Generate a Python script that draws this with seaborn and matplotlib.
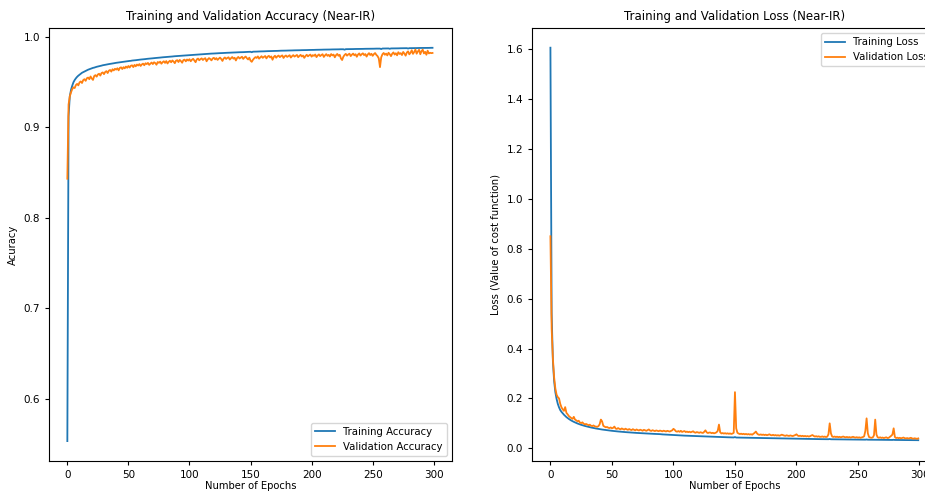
import numpy as np
import pandas as pd
import matplotlib
matplotlib.use("Agg")
import matplotlib.pyplot as plt
import seaborn as sns

# ---- training history (Near-IR model), one value per epoch ----
train_acc = [
    0.5530, 0.9120, 0.9340, 0.9412, 0.9458, 0.9496, 0.9521, 0.9540, 0.9556, 0.9569,
    0.9580, 0.9591, 0.9601, 0.9608, 0.9616, 0.9622, 0.9629, 0.9635, 0.9640, 0.9645,
    0.9650, 0.9655, 0.9658, 0.9663, 0.9667, 0.9670, 0.9674, 0.9677, 0.9680, 0.9684,
    0.9686, 0.9689, 0.9692, 0.9694, 0.9697, 0.9699, 0.9702, 0.9704, 0.9706, 0.9709,
    0.9711, 0.9713, 0.9715, 0.9717, 0.9719, 0.9721, 0.9722, 0.9725, 0.9726, 0.9728,
    0.9730, 0.9732, 0.9733, 0.9736, 0.9737, 0.9739, 0.9740, 0.9742, 0.9743, 0.9745,
    0.9747, 0.9748, 0.9750, 0.9751, 0.9753, 0.9754, 0.9756, 0.9757, 0.9758, 0.9760,
    0.9761, 0.9763, 0.9764, 0.9765, 0.9767, 0.9768, 0.9769, 0.9771, 0.9772, 0.9773,
    0.9774, 0.9776, 0.9777, 0.9778, 0.9779, 0.9780, 0.9781, 0.9783, 0.9784, 0.9785,
    0.9786, 0.9787, 0.9788, 0.9790, 0.9791, 0.9792, 0.9793, 0.9794, 0.9795, 0.9796,
    0.9797, 0.9798, 0.9799, 0.9800, 0.9801, 0.9802, 0.9803, 0.9803, 0.9804, 0.9805,
    0.9806, 0.9807, 0.9808, 0.9809, 0.9809, 0.9810, 0.9811, 0.9812, 0.9813, 0.9813,
    0.9814, 0.9815, 0.9816, 0.9816, 0.9817, 0.9818, 0.9818, 0.9819, 0.9820, 0.9820,
    0.9821, 0.9822, 0.9822, 0.9823, 0.9824, 0.9824, 0.9825, 0.9825, 0.9826, 0.9827,
    0.9827, 0.9828, 0.9828, 0.9829, 0.9829, 0.9830, 0.9831, 0.9831, 0.9832, 0.9832,
    0.9833, 0.9828, 0.9834, 0.9834, 0.9835, 0.9835, 0.9836, 0.9836, 0.9837, 0.9837,
    0.9838, 0.9838, 0.9839, 0.9839, 0.9840, 0.9840, 0.9841, 0.9841, 0.9842, 0.9842,
    0.9842, 0.9843, 0.9843, 0.9844, 0.9844, 0.9845, 0.9845, 0.9845, 0.9846, 0.9846,
    0.9847, 0.9847, 0.9847, 0.9848, 0.9848, 0.9849, 0.9849, 0.9849, 0.9850, 0.9850,
    0.9850, 0.9851, 0.9851, 0.9851, 0.9852, 0.9852, 0.9852, 0.9853, 0.9853, 0.9853,
    0.9854, 0.9854, 0.9854, 0.9855, 0.9855, 0.9855, 0.9856, 0.9856, 0.9856, 0.9857,
    0.9857, 0.9857, 0.9857, 0.9858, 0.9858, 0.9858, 0.9859, 0.9859, 0.9859, 0.9859,
    0.9860, 0.9860, 0.9860, 0.9861, 0.9861, 0.9861, 0.9861, 0.9856, 0.9862, 0.9862,
    0.9862, 0.9863, 0.9863, 0.9863, 0.9863, 0.9864, 0.9864, 0.9864, 0.9864, 0.9865,
    0.9865, 0.9865, 0.9865, 0.9866, 0.9866, 0.9866, 0.9866, 0.9866, 0.9867, 0.9867,
    0.9867, 0.9867, 0.9868, 0.9868, 0.9868, 0.9868, 0.9868, 0.9863, 0.9869, 0.9869,
    0.9869, 0.9869, 0.9870, 0.9870, 0.9866, 0.9870, 0.9870, 0.9871, 0.9871, 0.9871,
    0.9871, 0.9871, 0.9872, 0.9872, 0.9872, 0.9872, 0.9872, 0.9873, 0.9873, 0.9869,
    0.9873, 0.9873, 0.9874, 0.9874, 0.9874, 0.9874, 0.9874, 0.9875, 0.9875, 0.9875,
    0.9875, 0.9875, 0.9876, 0.9876, 0.9876, 0.9876, 0.9876, 0.9877, 0.9877, 0.9877,
]

val_acc = [
    0.8430, 0.9250, 0.9340, 0.9385, 0.9420, 0.9440, 0.9432, 0.9465, 0.9478, 0.9462,
    0.9495, 0.9505, 0.9488, 0.9520, 0.9530, 0.9512, 0.9541, 0.9548, 0.9530, 0.9560,
    0.9538, 0.9522, 0.9565, 0.9575, 0.9558, 0.9582, 0.9590, 0.9570, 0.9598, 0.9605,
    0.9586, 0.9610, 0.9619, 0.9598, 0.9624, 0.9632, 0.9614, 0.9640, 0.9627, 0.9645,
    0.9636, 0.9651, 0.9628, 0.9655, 0.9661, 0.9642, 0.9663, 0.9650, 0.9670, 0.9656,
    0.9676, 0.9659, 0.9679, 0.9683, 0.9664, 0.9688, 0.9672, 0.9692, 0.9681, 0.9697,
    0.9676, 0.9693, 0.9702, 0.9684, 0.9706, 0.9697, 0.9710, 0.9688, 0.9702, 0.9714,
    0.9697, 0.9717, 0.9708, 0.9690, 0.9720, 0.9711, 0.9724, 0.9701, 0.9718, 0.9728,
    0.9710, 0.9730, 0.9704, 0.9722, 0.9734, 0.9717, 0.9737, 0.9725, 0.9707, 0.9735,
    0.9740, 0.9720, 0.9743, 0.9730, 0.9712, 0.9741, 0.9746, 0.9727, 0.9748, 0.9736,
    0.9751, 0.9728, 0.9745, 0.9755, 0.9737, 0.9718, 0.9749, 0.9758, 0.9739, 0.9752,
    0.9760, 0.9742, 0.9755, 0.9762, 0.9728, 0.9749, 0.9763, 0.9753, 0.9738, 0.9759,
    0.9766, 0.9749, 0.9763, 0.9743, 0.9757, 0.9769, 0.9753, 0.9732, 0.9759, 0.9770,
    0.9754, 0.9765, 0.9772, 0.9747, 0.9762, 0.9775, 0.9757, 0.9767, 0.9737, 0.9764,
    0.9776, 0.9759, 0.9769, 0.9778, 0.9754, 0.9770, 0.9780, 0.9762, 0.9748, 0.9768,
    0.9735, 0.9722, 0.9745, 0.9761, 0.9774, 0.9765, 0.9782, 0.9757, 0.9771, 0.9784,
    0.9766, 0.9777, 0.9786, 0.9760, 0.9779, 0.9788, 0.9770, 0.9782, 0.9745, 0.9775,
    0.9789, 0.9767, 0.9783, 0.9791, 0.9774, 0.9785, 0.9793, 0.9765, 0.9783, 0.9792,
    0.9776, 0.9786, 0.9795, 0.9769, 0.9785, 0.9796, 0.9780, 0.9789, 0.9798, 0.9773,
    0.9787, 0.9799, 0.9781, 0.9792, 0.9766, 0.9786, 0.9800, 0.9783, 0.9794, 0.9802,
    0.9779, 0.9796, 0.9788, 0.9803, 0.9774, 0.9792, 0.9804, 0.9785, 0.9797, 0.9806,
    0.9776, 0.9794, 0.9807, 0.9788, 0.9799, 0.9781, 0.9808, 0.9793, 0.9802, 0.9772,
    0.9796, 0.9809, 0.9789, 0.9800, 0.9760, 0.9742, 0.9778, 0.9798, 0.9810, 0.9790,
    0.9803, 0.9812, 0.9785, 0.9801, 0.9813, 0.9794, 0.9806, 0.9778, 0.9802, 0.9815,
    0.9791, 0.9806, 0.9816, 0.9796, 0.9808, 0.9780, 0.9803, 0.9818, 0.9797, 0.9811,
    0.9788, 0.9807, 0.9819, 0.9799, 0.9785, 0.9760, 0.9663, 0.9772, 0.9805, 0.9820,
    0.9800, 0.9813, 0.9793, 0.9822, 0.9806, 0.9785, 0.9812, 0.9826, 0.9802, 0.9817,
    0.9794, 0.9828, 0.9809, 0.9818, 0.9797, 0.9831, 0.9813, 0.9790, 0.9825, 0.9838,
    0.9805, 0.9822, 0.9850, 0.9810, 0.9830, 0.9858, 0.9812, 0.9836, 0.9855, 0.9806,
    0.9840, 0.9856, 0.9815, 0.9832, 0.9800, 0.9845, 0.9815, 0.9822, 0.9818, 0.9820,
]

train_loss = [
    1.6060, 0.5400, 0.3500, 0.2700, 0.2250, 0.1980, 0.1780, 0.1640, 0.1530, 0.1460,
    0.1400, 0.1345, 0.1295, 0.1250, 0.1210, 0.1175, 0.1142, 0.1112, 0.1085, 0.1060,
    0.1037, 0.1015, 0.0994, 0.0975, 0.0957, 0.0940, 0.0924, 0.0909, 0.0895, 0.0882,
    0.0869, 0.0857, 0.0845, 0.0834, 0.0823, 0.0813, 0.0803, 0.0794, 0.0785, 0.0776,
    0.0768, 0.0760, 0.0752, 0.0745, 0.0738, 0.0731, 0.0724, 0.0718, 0.0712, 0.0706,
    0.0700, 0.0694, 0.0689, 0.0684, 0.0679, 0.0674, 0.0669, 0.0664, 0.0660, 0.0656,
    0.0652, 0.0648, 0.0644, 0.0640, 0.0636, 0.0632, 0.0629, 0.0625, 0.0622, 0.0619,
    0.0616, 0.0613, 0.0610, 0.0607, 0.0604, 0.0601, 0.0598, 0.0596, 0.0593, 0.0590,
    0.0588, 0.0585, 0.0583, 0.0580, 0.0578, 0.0576, 0.0573, 0.0571, 0.0569, 0.0567,
    0.0560, 0.0557, 0.0554, 0.0551, 0.0548, 0.0545, 0.0542, 0.0539, 0.0536, 0.0533,
    0.0530, 0.0528, 0.0525, 0.0522, 0.0520, 0.0517, 0.0515, 0.0512, 0.0510, 0.0507,
    0.0505, 0.0503, 0.0500, 0.0498, 0.0496, 0.0494, 0.0491, 0.0489, 0.0487, 0.0485,
    0.0483, 0.0481, 0.0479, 0.0477, 0.0475, 0.0473, 0.0471, 0.0469, 0.0467, 0.0466,
    0.0464, 0.0462, 0.0460, 0.0459, 0.0457, 0.0455, 0.0454, 0.0452, 0.0450, 0.0449,
    0.0447, 0.0446, 0.0444, 0.0443, 0.0441, 0.0440, 0.0438, 0.0437, 0.0436, 0.0434,
    0.0450, 0.0431, 0.0430, 0.0429, 0.0428, 0.0427, 0.0425, 0.0424, 0.0423, 0.0422,
    0.0420, 0.0419, 0.0418, 0.0417, 0.0416, 0.0414, 0.0413, 0.0412, 0.0411, 0.0410,
    0.0409, 0.0408, 0.0407, 0.0406, 0.0405, 0.0404, 0.0403, 0.0402, 0.0401, 0.0400,
    0.0399, 0.0398, 0.0397, 0.0396, 0.0395, 0.0394, 0.0393, 0.0392, 0.0391, 0.0390,
    0.0389, 0.0388, 0.0388, 0.0387, 0.0386, 0.0385, 0.0384, 0.0383, 0.0383, 0.0382,
    0.0381, 0.0380, 0.0379, 0.0379, 0.0378, 0.0377, 0.0376, 0.0376, 0.0375, 0.0374,
    0.0373, 0.0373, 0.0372, 0.0371, 0.0371, 0.0370, 0.0369, 0.0368, 0.0368, 0.0367,
    0.0366, 0.0366, 0.0365, 0.0364, 0.0364, 0.0363, 0.0363, 0.0372, 0.0361, 0.0361,
    0.0360, 0.0359, 0.0359, 0.0358, 0.0358, 0.0357, 0.0356, 0.0356, 0.0355, 0.0355,
    0.0354, 0.0353, 0.0353, 0.0352, 0.0352, 0.0351, 0.0351, 0.0350, 0.0349, 0.0349,
    0.0348, 0.0348, 0.0347, 0.0347, 0.0346, 0.0346, 0.0345, 0.0352, 0.0344, 0.0344,
    0.0343, 0.0343, 0.0342, 0.0342, 0.0348, 0.0341, 0.0341, 0.0340, 0.0339, 0.0339,
    0.0338, 0.0338, 0.0337, 0.0337, 0.0336, 0.0336, 0.0335, 0.0335, 0.0334, 0.0340,
    0.0334, 0.0333, 0.0333, 0.0332, 0.0332, 0.0331, 0.0331, 0.0330, 0.0330, 0.0329,
    0.0329, 0.0328, 0.0328, 0.0327, 0.0327, 0.0326, 0.0326, 0.0325, 0.0325, 0.0324,
]

val_loss = [
    0.8500, 0.4800, 0.3600, 0.2850, 0.2400, 0.2150, 0.2050, 0.2000, 0.1780, 0.1640,
    0.1560, 0.1500, 0.1650, 0.1420, 0.1360, 0.1290, 0.1250, 0.1210, 0.1180, 0.1260,
    0.1150, 0.1120, 0.1080, 0.1105, 0.1030, 0.1010, 0.1040, 0.0985, 0.0960, 0.0975,
    0.0950, 0.0925, 0.0945, 0.0905, 0.0890, 0.0915, 0.0880, 0.0870, 0.0860, 0.0885,
    0.0960, 0.1150, 0.1080, 0.0900, 0.0870, 0.0840, 0.0855, 0.0825, 0.0810, 0.0835,
    0.0800, 0.0820, 0.0870, 0.0790, 0.0775, 0.0810, 0.0780, 0.0760, 0.0795, 0.0770,
    0.0750, 0.0785, 0.0760, 0.0740, 0.0770, 0.0745, 0.0730, 0.0765, 0.0740, 0.0720,
    0.0755, 0.0730, 0.0715, 0.0745, 0.0725, 0.0705, 0.0740, 0.0720, 0.0700, 0.0730,
    0.0755, 0.0710, 0.0695, 0.0725, 0.0705, 0.0690, 0.0715, 0.0700, 0.0685, 0.0710,
    0.0695, 0.0680, 0.0705, 0.0690, 0.0675, 0.0700, 0.0685, 0.0670, 0.0695, 0.0720,
    0.0780, 0.0740, 0.0680, 0.0665, 0.0690, 0.0660, 0.0700, 0.0655, 0.0675, 0.0690,
    0.0650, 0.0670, 0.0645, 0.0665, 0.0640, 0.0660, 0.0680, 0.0640, 0.0625, 0.0650,
    0.0635, 0.0620, 0.0645, 0.0625, 0.0615, 0.0660, 0.0720, 0.0640, 0.0610, 0.0630,
    0.0630, 0.0605, 0.0620, 0.0600, 0.0615, 0.0640, 0.0700, 0.0950, 0.0640, 0.0595,
    0.0610, 0.0590, 0.0605, 0.0585, 0.0600, 0.0580, 0.0595, 0.0575, 0.0590, 0.0620,
    0.2250, 0.0800, 0.0620, 0.0590, 0.0570, 0.0585, 0.0565, 0.0580, 0.0560, 0.0575,
    0.0555, 0.0570, 0.0550, 0.0565, 0.0545, 0.0580, 0.0620, 0.0670, 0.0590, 0.0550,
    0.0540, 0.0555, 0.0535, 0.0550, 0.0530, 0.0545, 0.0525, 0.0540, 0.0560, 0.0530,
    0.0520, 0.0540, 0.0515, 0.0530, 0.0510, 0.0525, 0.0505, 0.0520, 0.0545, 0.0530,
    0.0510, 0.0500, 0.0520, 0.0505, 0.0495, 0.0515, 0.0500, 0.0490, 0.0510, 0.0530,
    0.0560, 0.0510, 0.0490, 0.0505, 0.0485, 0.0500, 0.0480, 0.0495, 0.0475, 0.0490,
    0.0470, 0.0485, 0.0510, 0.0530, 0.0495, 0.0470, 0.0485, 0.0465, 0.0480, 0.0460,
    0.0460, 0.0475, 0.0455, 0.0470, 0.0450, 0.0465, 0.0560, 0.1000, 0.0600, 0.0470,
    0.0455, 0.0470, 0.0450, 0.0465, 0.0445, 0.0460, 0.0440, 0.0455, 0.0470, 0.0450,
    0.0440, 0.0455, 0.0435, 0.0450, 0.0430, 0.0445, 0.0460, 0.0440, 0.0430, 0.0445,
    0.0425, 0.0440, 0.0420, 0.0435, 0.0450, 0.0480, 0.0700, 0.1200, 0.0600, 0.0450,
    0.0430, 0.0420, 0.0435, 0.0520, 0.1150, 0.0550, 0.0440, 0.0420, 0.0440, 0.0415,
    0.0430, 0.0410, 0.0425, 0.0440, 0.0410, 0.0420, 0.0460, 0.0500, 0.0550, 0.0800,
    0.0450, 0.0410, 0.0425, 0.0405, 0.0420, 0.0400, 0.0415, 0.0430, 0.0405, 0.0395,
    0.0410, 0.0390, 0.0405, 0.0420, 0.0395, 0.0385, 0.0400, 0.0390, 0.0380, 0.0395,
]

epochs = np.arange(len(train_acc))
acc_ticks = [0.6, 0.7, 0.8, 0.9, 1.0]
loss_ticks = [0.0, 0.2, 0.4, 0.6, 0.8, 1.0, 1.2, 1.4, 1.6]
epoch_ticks = [0, 50, 100, 150, 200, 250, 300]

acc_df = pd.DataFrame({
    "epoch": np.concatenate([epochs, epochs]),
    "value": np.concatenate([train_acc, val_acc]),
    "series": ["Training Accuracy"] * len(epochs) + ["Validation Accuracy"] * len(epochs),
})
loss_df = pd.DataFrame({
    "epoch": np.concatenate([epochs, epochs]),
    "value": np.concatenate([train_loss, val_loss]),
    "series": ["Training Loss"] * len(epochs) + ["Validation Loss"] * len(epochs),
})

palette = ["#1f77b4", "#ff7f0e"]
plt.rcParams["font.family"] = ["DejaVu Sans"]
tick_fs = 7.5
label_fs = 7.2
legend_fs = 7.3
title_fs = 8.5

fig = plt.figure(figsize=(9.25, 4.91), dpi=100)
ax1 = fig.add_axes([0.0530, 0.0611, 0.4357, 0.8819])
ax2 = fig.add_axes([0.5751, 0.0611, 0.4389, 0.8819])

sns.lineplot(data=acc_df, x="epoch", y="value", hue="series", palette=palette,
             linewidth=1.3, ax=ax1)
sns.lineplot(data=loss_df, x="epoch", y="value", hue="series", palette=palette,
             linewidth=1.3, ax=ax2)

ax1.set_title("Training and Validation Accuracy (Near-IR)", fontsize=title_fs)
ax1.set_xlabel("Number of Epochs", fontsize=label_fs, labelpad=1)
ax1.set_ylabel("Acuracy", fontsize=label_fs)
ax1.set_yticks(acc_ticks)
ax1.set_xticks(epoch_ticks)
ax1.legend(loc="lower right", fontsize=legend_fs)

ax2.set_title("Training and Validation Loss (Near-IR)", fontsize=title_fs)
ax2.set_xlabel("Number of Epochs", fontsize=label_fs, labelpad=1)
ax2.set_ylabel("Loss (Value of cost function)", fontsize=label_fs)
ax2.set_yticks(loss_ticks)
ax2.set_xticks(epoch_ticks)
ax2.legend(loc="upper right", fontsize=legend_fs)

for ax in (ax1, ax2):
    ax.tick_params(labelsize=tick_fs, length=3)
    ax.set_xlim(-15, 315)

ax1.set_ylim(0.531, 1.0096)
ax2.set_ylim(-0.051, 1.685)

fig.savefig("out.png", dpi=100)
